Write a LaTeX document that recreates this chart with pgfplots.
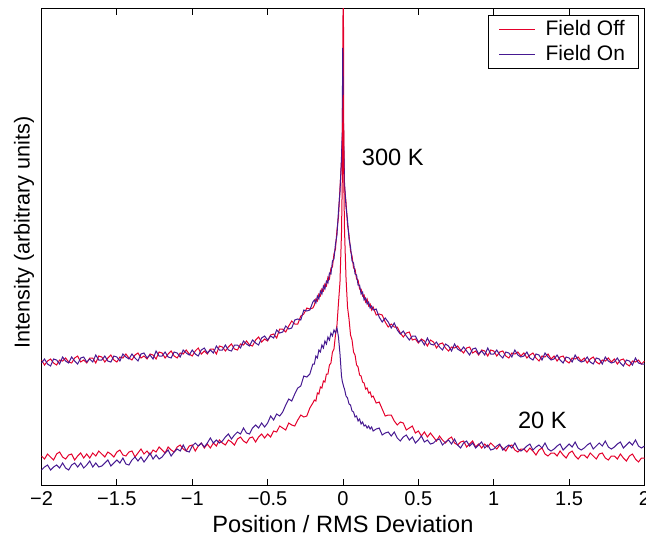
\documentclass[border=0pt]{standalone}
\usepackage{fontspec}
\setmainfont{Liberation Sans}
\usepackage{pgfplots}
\usepackage{pgfplotstable}
\pgfplotsset{compat=1.18}
\usetikzlibrary{calc}

\definecolor{fieldoff}{RGB}{228,0,43}
\definecolor{fieldon}{RGB}{70,25,145}

% a = 300 K field off, b = 300 K field on, c = 20 K field off, d = 20 K field on
\pgfplotstableread{
x a b c d
-2.00 125 122 29 15
-1.98 120 126 26 18
-1.96 124 121 31 20
-1.94 126 119 28 15
-1.92 122 126 25 18
-1.90 120 125 31 20
-1.88 125 121 33 17
-1.86 124 128 28 22
-1.84 127 124 26 17
-1.82 123 122 30 15
-1.80 122 128 31 20
-1.78 127 124 25 22
-1.76 129 121 29 18
-1.74 123 127 32 22
-1.72 125 128 27 17
-1.70 122 123 31 20
-1.68 127 126 27 24
-1.66 127 123 32 18
-1.64 122 130 29 22
-1.62 129 125 34 18
-1.60 128 125 31 19
-1.58 123 129 28 22
-1.56 127 124 33 25
-1.54 130 123 31 19
-1.52 125 129 28 22
-1.50 123 128 33 25
-1.48 128 124 35 22
-1.46 127 131 30 27
-1.44 131 128 29 21
-1.42 127 126 33 20
-1.40 125 131 34 25
-1.38 130 127 28 28
-1.36 132 124 32 24
-1.34 127 131 36 28
-1.32 129 132 31 23
-1.30 126 127 34 27
-1.28 131 130 30 32
-1.26 130 126 35 26
-1.24 126 134 33 30
-1.22 133 129 38 26
-1.20 132 129 35 28
-1.18 127 133 32 32
-1.16 131 128 38 35
-1.14 134 127 35 29
-1.12 129 133 33 33
-1.10 127 132 38 36
-1.08 132 128 40 34
-1.06 131 135 36 40
-1.04 135 132 34 34
-1.02 131 130 39 33
-1.00 129 135 40 39
-0.98 134 131 34 42
-0.96 137 129 39 39
-0.94 131 135 42 42
-0.92 134 137 37 38
-0.90 131 132 41 42
-0.88 136 135 37 47
-0.86 136 132 42 42
-0.84 131 139 39 45
-0.82 139 135 45 42
-0.80 138 135 42 44
-0.78 134 140 40 48
-0.76 138 135 45 51
-0.74 141 134 43 46
-0.72 136 140 40 50
-0.70 135 140 46 53
-0.68 141 137 48 51
-0.66 140 144 44 57
-0.64 144 141 42 52
-0.62 140 139 47 51
-0.60 139 145 48 57
-0.58 145 142 43 60
-0.56 148 140 48 57
-0.54 143 147 51 62
-0.52 146 149 47 58
-0.50 144 145 51 62
-0.48 150 149 48 69
-0.46 151 147 54 65
-0.44 147 155 53 71
-0.42 156 152 59 69
-0.40 156 153 57 73
-0.38 153 159 55 80
-0.36 159 156 62 86
-0.34 164 157 60 84
-0.32 161 165 59 91
-0.30 161 166 65 97
-0.28 169 165 70 99
-0.26 171 175 68 109
-0.24 177 174 69 108
-0.22 176 175 77 111
-0.20 177 183 82 121
-0.19 180 185 85 121
-0.18 186 182 84 129
-0.17 184 189 92 127
-0.16 191 186 91 135
-0.15 189 194 98 133
-0.14 196 191 97 140
-0.13 194 199 104 137
-0.12 201 196 103 144
-0.11 199 204 111 141
-0.10 208 202 111 148
-0.09 206 212 120 145
-0.08 217 211 122 152
-0.07 218 224 133 149
-0.06 231 226 136 155
-0.05 236 241 150 152
-0.04 255 250 160 157
-0.03 268 274 182 148
-0.02 297 293 203 131
-0.01 322 328 252 109
-0.005 348 352 302 104
-0.002 400 437 360 102
0.002 540 380 390 100
0.005 352 338 310 98
0.01 298 302 255 96
0.02 283 278 207 89
0.03 260 265 178 87
0.04 250 246 166 81
0.05 234 238 150 80
0.06 229 224 145 74
0.07 217 222 133 73
0.08 216 211 130 68
0.09 206 210 120 69
0.10 205 200 118 64
0.11 196 200 110 66
0.12 196 191 109 61
0.13 189 193 103 63
0.14 190 185 102 59
0.15 183 187 96 60
0.16 186 181 97 57
0.17 179 183 92 59
0.18 181 177 93 56
0.19 175 179 88 58
0.20 178 175 89 54
0.22 170 176 82 56
0.24 171 168 83 57
0.26 170 163 76 50
0.28 163 167 69 52
0.30 158 163 70 53
0.32 161 157 70 49
0.34 158 162 64 53
0.36 158 155 60 47
0.38 152 151 63 44
0.40 148 154 62 48
0.42 152 149 55 50
0.44 153 145 57 45
0.46 145 149 59 48
0.48 146 149 52 42
0.50 142 143 54 45
0.52 146 145 49 49
0.54 144 140 53 43
0.56 139 147 48 45
0.58 145 141 52 41
0.60 143 140 48 42
0.62 137 143 44 45
0.64 141 138 49 46
0.66 142 135 45 40
0.68 137 141 42 43
0.70 134 139 46 45
0.72 138 134 48 41
0.74 137 141 42 46
0.76 139 136 40 40
0.78 135 134 43 37
0.80 132 138 44 42
0.82 137 134 38 44
0.84 138 130 41 39
0.86 132 136 44 42
0.88 134 137 38 37
0.90 130 131 41 40
0.92 135 134 37 43
0.94 134 130 41 37
0.96 129 137 38 40
0.98 135 131 42 35
1.00 134 131 39 36
1.02 129 135 36 39
1.04 133 130 40 41
1.06 134 127 37 35
1.08 129 133 34 38
1.10 127 132 39 40
1.12 132 128 40 37
1.14 131 135 35 42
1.16 133 130 33 36
1.18 129 128 36 34
1.20 132 129 36 36
1.22 127 133 33 39
1.24 130 127 37 41
1.26 132 125 34 35
1.28 127 131 30 38
1.30 124 130 35 40
1.32 129 125 37 37
1.34 128 132 31 42
1.36 131 128 29 36
1.38 126 125 32 34
1.40 129 126 32 36
1.42 124 130 29 39
1.44 128 125 34 41
1.46 129 122 30 35
1.48 124 128 27 38
1.50 122 127 32 41
1.52 127 123 34 38
1.54 126 130 29 43
1.56 128 125 26 37
1.58 124 123 30 35
1.60 127 124 30 37
1.62 122 128 27 40
1.64 126 123 32 42
1.66 128 121 29 36
1.68 123 127 26 39
1.70 121 126 31 42
1.72 125 121 32 39
1.74 124 128 27 44
1.76 127 124 25 38
1.78 123 122 29 36
1.80 126 123 29 38
1.82 121 127 26 41
1.84 125 122 31 43
1.86 126 119 27 37
1.88 121 125 24 40
1.90 119 124 29 43
1.92 124 120 31 40
1.94 123 127 26 45
1.96 125 122 23 39
1.98 121 121 27 37
2.00 124 121 27 39
}\profiles

\begin{document}
\begin{tikzpicture}
\begin{axis}[
  scale only axis, width=301.5pt, height=238pt,
  xmin=-2, xmax=2, ymin=0, ymax=476,
  axis line style={line width=0.5pt},
  xtick={-2,-1.5,-1,-0.5,0,0.5,1,1.5,2},
  xticklabels={−2,−1.5,−1,−0.5,0,0.5,1,1.5,2},
  ytick=\empty,
  tick align=inside, major tick length=3pt,
  tick style={line width=0.5pt, black},
  xticklabel style={font=\fontsize{10}{12}\selectfont, anchor=base, yshift=-10.15pt},
  xlabel={Position / RMS Deviation},
  xlabel style={font=\fontsize{11.8}{14}\selectfont, at={(axis description cs:0.5,-0.1008)}, anchor=base},
  ylabel={Intensity (arbitrary units)},
  ylabel style={font=\fontsize{10.8}{13}\selectfont, at={(axis description cs:-0.029,0.5305)}, anchor=center},
  legend style={at={(axis description cs:0.9917,0.9874)}, anchor=north east,
    font=\fontsize{10.5}{12}\selectfont, draw=black, line width=0.5pt,
    inner xsep=5pt, inner ysep=0.5pt, row sep=-0.5pt, cells={anchor=west}},
  legend image code/.code={\draw[#1] (0pt,0pt) -- (18pt,0pt); \path (21pt,0pt);},
]
\addplot[fieldoff, line width=0.5pt] table[x=x, y=a]{\profiles};
\addlegendentry{Field Off}
\addplot[fieldon, line width=0.5pt] table[x=x, y=b]{\profiles};
\addlegendentry{Field On}
\addplot[fieldoff, line width=0.5pt, forget plot] table[x=x, y=c]{\profiles};
\addplot[fieldon, line width=0.5pt, forget plot] table[x=x, y=d]{\profiles};
\node[anchor=base, font=\fontsize{11.8}{14}\selectfont] at (axis cs:0.33,319.3) {300 K};
\node[anchor=base, font=\fontsize{11.8}{14}\selectfont] at (axis cs:1.322,56.7) {20 K};
\end{axis}
\pgfresetboundingbox
\path[use as bounding box] ($(current axis.south west)+(-20.75pt,-26pt)$) rectangle ($(current axis.north east)+(0.75pt,4.5pt)$);
\end{tikzpicture}
\end{document}
